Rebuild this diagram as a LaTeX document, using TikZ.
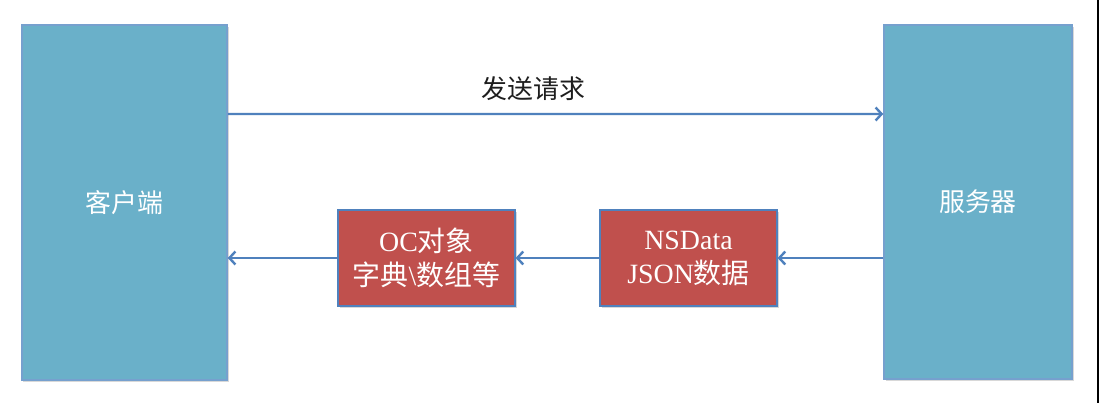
\documentclass[tikz,border=0pt]{standalone}
\usepackage{fontspec}
\setmainfont{Liberation Serif}
\newfontfamily\cjk{Noto Sans CJK SC}
\usetikzlibrary{arrows.meta,shadows}
\definecolor{boxblue}{RGB}{106,176,201}
\definecolor{boxedge}{RGB}{118,160,206}
\definecolor{boxred}{RGB}{192,80,77}
\definecolor{arrowblue}{RGB}{79,129,189}
\definecolor{labeltext}{RGB}{30,30,30}
\begin{document}
\begin{tikzpicture}[x=1bp,y=-1bp,
  bigbox/.style={draw=boxedge,line width=1.5bp,fill=boxblue,text=white,
    inner sep=0pt,font=\cjk\fontsize{26}{35}\selectfont,
    drop shadow={shadow xshift=1.5bp,shadow yshift=-1.5bp,opacity=0.3}},
  redbox/.style={draw=arrowblue,line width=1.2bp,fill=boxred,text=white,
    inner sep=0pt,align=center,minimum width=177bp,minimum height=96bp,
    font=\fontsize{28}{34}\selectfont,
    drop shadow={shadow xshift=1.5bp,shadow yshift=-1.5bp,opacity=0.3}},
  arr/.style={draw=arrowblue,line width=2.4bp,-{Straight Barb[length=6bp,width=13bp,line width=2.4bp]}}
]
\useasboundingbox (0,0) rectangle (1100,403);
\fill[white] (0,0) rectangle (1100,403);
\fill[black] (1097.3,0) rectangle (1098.6,403);

\node[bigbox,minimum width=205bp,minimum height=355bp] (client) at (124.5,202.5) {客户端};
\node[bigbox,minimum width=188bp,minimum height=354bp] (server) at (978,202) {服务器};

\node[redbox] (oc) at (426.5,258) {OC{\cjk 对象}\\{\cjk 字典}\textbackslash{\cjk 数组等}};
\node[redbox] (ns) at (688.5,258) {NSData\\JSON{\cjk 数据}};

\draw[arr] ([yshift=88.5bp]client.east) -- ([yshift=88bp]server.west)
  node[pos=0.466,above=9bp,text=labeltext,font=\cjk\fontsize{26}{30}\selectfont] (lbl) {发送请求};

\draw[arr] (server.west |- ns.east) -- (ns.east);
\draw[arr] (ns.west) -- (oc.east);
\draw[arr] (oc.west) -- (client.east |- oc.west);
\end{tikzpicture}
\end{document}
